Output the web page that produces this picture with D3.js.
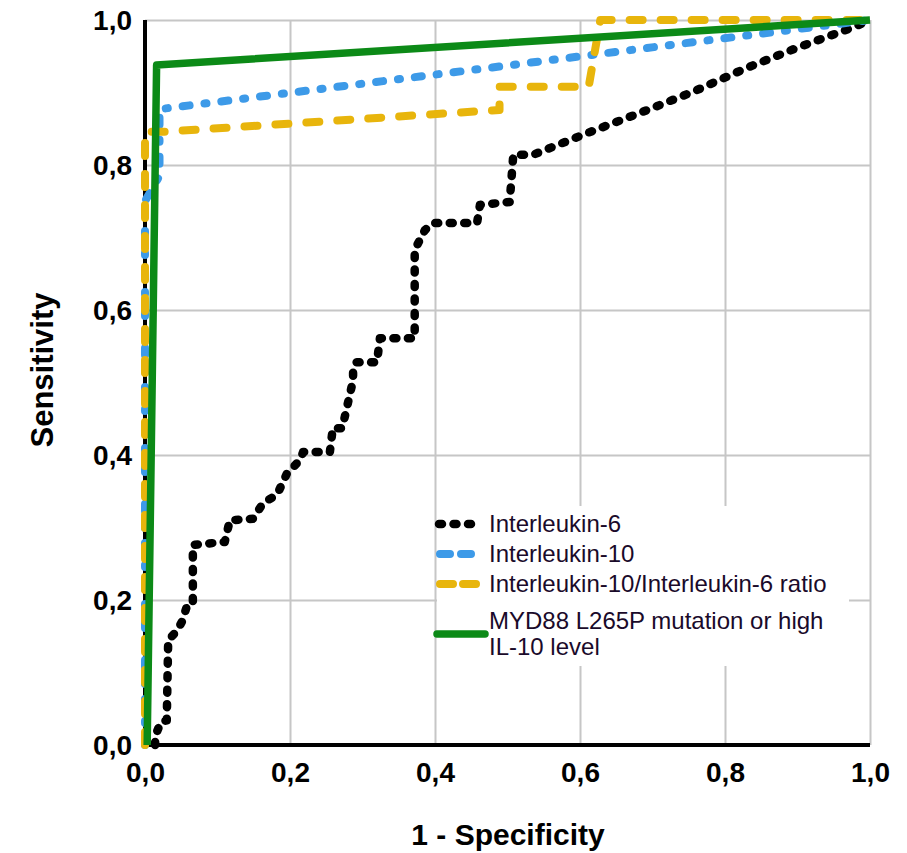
<!DOCTYPE html>
<html>
<head>
<meta charset="utf-8">
<script src="https://cdn.jsdelivr.net/npm/d3@7/dist/d3.min.js"></script>
<style>
  html, body { margin: 0; padding: 0; background: #fff; }
  svg { display: block; }
  text { font-family: "Liberation Sans", Arial, sans-serif; }
</style>
</head>
<body>
<svg id="chart" width="907" height="853"></svg>
<script>
// ---- data: [1 - specificity, sensitivity] ----
const il6 = [
  [0.014, 0.000], [0.014, 0.012], [0.022, 0.032], [0.030, 0.034], [0.032, 0.145],
  [0.043, 0.156], [0.051, 0.170], [0.057, 0.189], [0.066, 0.193], [0.066, 0.276],
  [0.110, 0.280], [0.117, 0.310], [0.149, 0.312], [0.163, 0.334], [0.182, 0.345],
  [0.196, 0.375], [0.214, 0.393], [0.218, 0.404], [0.255, 0.404], [0.259, 0.437],
  [0.272, 0.437], [0.287, 0.503], [0.287, 0.521], [0.292, 0.528], [0.320, 0.528],
  [0.324, 0.561], [0.372, 0.561], [0.372, 0.683], [0.386, 0.710], [0.397, 0.720],
  [0.458, 0.720], [0.462, 0.745], [0.503, 0.749], [0.508, 0.814], [0.535, 0.814],
  [0.610, 0.844], [0.683, 0.872], [0.756, 0.901], [0.830, 0.934], [0.903, 0.963],
  [0.977, 0.990], [1.000, 1.000]
];
const il10 = [
  [0.000, 0.000], [0.000, 0.750], [0.020, 0.785], [0.020, 0.877], [1.000, 1.000]
];
const ratio = [
  [0.000, 0.000], [0.000, 0.846], [0.030, 0.846], [0.489, 0.876], [0.489, 0.908],
  [0.612, 0.908], [0.628, 1.000], [1.000, 1.000]
];
const myd88 = [
  [0.003, 0.000], [0.016, 0.938], [1.000, 1.000]
];
const seriesNames = [
  "Interleukin-6",
  "Interleukin-10",
  "Interleukin-10/Interleukin-6 ratio",
  ["MYD88 L265P mutation or high", "IL-10 level"]
];
const tickValues = [0, 0.2, 0.4, 0.6, 0.8, 1.0];
const xTitle = "1 - Specificity";
const yTitle = "Sensitivity";

// ---- layout ----
const svg = d3.select("#chart");
const L = 145, R = 870, T = 20, B = 745;
const x = d3.scaleLinear().domain([0, 1]).range([L, R]);
const y = d3.scaleLinear().domain([0, 1]).range([B, T]);
const fmt = d => d3.format(".1f")(d).replace(".", ",");

// gridlines via axes
const gx = svg.append("g").attr("transform", `translate(0,${B})`)
  .call(d3.axisBottom(x).tickValues(tickValues).tickSize(-(B - T)).tickFormat(""));
gx.select(".domain").remove();
gx.selectAll(".tick line").attr("stroke", "#c6c6c6").attr("stroke-width", 2);

const gy = svg.append("g").attr("transform", `translate(${L},0)`)
  .call(d3.axisLeft(y).tickValues(tickValues).tickSize(-(R - L)).tickFormat(""));
gy.select(".domain").remove();
gy.selectAll(".tick line").attr("stroke", "#c6c6c6").attr("stroke-width", 2);

// tick labels via axes
const lx = svg.append("g").attr("transform", `translate(0,${B})`)
  .call(d3.axisBottom(x).tickValues(tickValues).tickSize(0).tickPadding(0).tickFormat(fmt));
lx.select(".domain").remove();
lx.selectAll(".tick text")
  .attr("y", 27).attr("dy", "0.35em")
  .attr("fill", "#000").attr("font-size", 28).attr("font-weight", "bold")
  .attr("font-family", "Liberation Sans, Arial, sans-serif");

const ly = svg.append("g").attr("transform", `translate(${L},0)`)
  .call(d3.axisLeft(y).tickValues(tickValues).tickSize(0).tickPadding(0).tickFormat(fmt));
ly.select(".domain").remove();
ly.selectAll(".tick text")
  .attr("x", -13).attr("dy", "0.35em")
  .attr("fill", "#000").attr("font-size", 28).attr("font-weight", "bold")
  .attr("font-family", "Liberation Sans, Arial, sans-serif");

// black axis lines
svg.append("line").attr("x1", x(0)).attr("x2", x(0)).attr("y1", y(1)).attr("y2", y(0))
  .attr("stroke", "#000").attr("stroke-width", 4);
svg.append("line").attr("x1", x(0) - 2).attr("x2", x(1)).attr("y1", y(0)).attr("y2", y(0))
  .attr("stroke", "#000").attr("stroke-width", 4);

// curves
const line = d3.line().x(d => x(d[0])).y(d => y(d[1]));
const styles = [
  { data: il6,   color: "#000000", dash: "3 11.5", w: 8.5 },
  { data: il10,  color: "#3d9ae8", dash: "7 15 2 15", w: 8 },
  { data: ratio, color: "#e8b50c", dash: "13 18", w: 8 },
  { data: myd88, color: "#0c8a17", dash: null, w: 7.5 }
];
styles.forEach(s => {
  svg.append("path").datum(s.data)
    .attr("d", line)
    .attr("fill", "none")
    .attr("stroke", s.color)
    .attr("stroke-width", s.w)
    .attr("stroke-linecap", s.dash ? "round" : "butt")
    .attr("stroke-linejoin", "round")
    .attr("stroke-dasharray", s.dash);
});

// legend
svg.append("rect").attr("x", 437).attr("y", 506).attr("width", 412).attr("height", 160)
  .attr("fill", "#fff");
const legRows = [
  { sy: 524, ty: [524] },
  { sy: 554, ty: [554] },
  { sy: 584, ty: [584] },
  { sy: 634, ty: [621, 647] }
];
const legendSamples = [
  { color: "#000000", dash: "3 11.5", x1: 439, x2: 480, w: 8.5 },
  { color: "#3d9ae8", dash: "10 11", x1: 440, x2: 482, w: 8 },
  { color: "#e8b50c", dash: "13 10", x1: 440, x2: 484, w: 8 },
  { color: "#0c8a17", dash: null, x1: 437, x2: 485, w: 7.5 }
];
legRows.forEach((r, i) => {
  const s = legendSamples[i];
  svg.append("line").attr("x1", s.x1).attr("x2", s.x2).attr("y1", r.sy).attr("y2", r.sy)
    .attr("stroke", s.color).attr("stroke-width", s.w)
    .attr("stroke-linecap", "round").attr("stroke-dasharray", s.dash);
  const lines = Array.isArray(seriesNames[i]) ? seriesNames[i] : [seriesNames[i]];
  lines.forEach((t, j) => {
    svg.append("text").attr("x", 489).attr("y", r.ty[j]).attr("dy", "0.35em")
      .attr("font-size", 24).attr("fill", "#1a0a2a").text(t);
  });
});

// axis titles
svg.append("text").attr("x", 508).attr("y", 834).attr("dy", "0.35em")
  .attr("text-anchor", "middle").attr("font-size", 30).attr("font-weight", "bold")
  .attr("fill", "#000").text(xTitle);
svg.append("text").attr("transform", "translate(42,370) rotate(-90)").attr("dy", "0.35em")
  .attr("text-anchor", "middle").attr("font-size", 31).attr("font-weight", "bold")
  .attr("fill", "#000").text(yTitle);
</script>
</body>
</html>
